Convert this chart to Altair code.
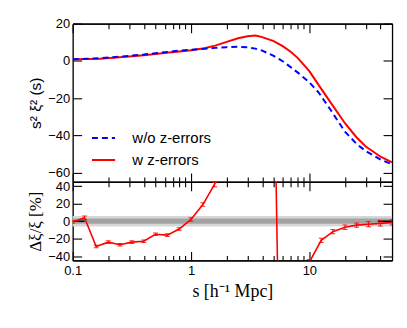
import altair as alt
import pandas as pd

# ---------------- data ----------------
series_names = ["w z-errors", "w/o z-errors"]
s_top = [0.1, 0.13, 0.17, 0.22, 0.3, 0.4, 0.5, 0.65, 0.8, 1.0, 1.3, 1.6, 2.0, 2.5, 3.0,
         3.5, 4.0, 5.0, 6.0, 7.0, 8.0, 10.0, 12.0, 15.0, 20.0, 25.0, 30.0, 40.0, 50.0]
xi_wz = [0.9, 1.0, 1.2, 1.7, 2.4, 3.1, 3.7, 4.5, 5.1, 5.7, 6.8, 8.2, 10.2, 12.2, 13.3,
         13.6, 12.8, 10.6, 7.8, 4.8, 1.5, -5.5, -13.0, -22.0, -33.5, -41.0, -46.0, -51.5, -54.5]
xi_woz = [0.9, 1.1, 1.4, 2.0, 2.7, 3.4, 4.1, 4.9, 5.5, 6.0, 6.5, 7.0, 7.4, 7.6, 7.3,
          6.6, 5.5, 2.7, -0.3, -3.5, -6.3, -11.5, -17.0, -26.0, -38.0, -44.5, -48.5, -53.0, -55.5]

s_res = [0.1, 0.126, 0.158, 0.2, 0.251, 0.316, 0.398, 0.501, 0.631, 0.794, 1.0, 1.26, 1.58,
         2.0, 2.51, 3.16, 3.98, 5.01, 6.31, 7.94, 10.0, 12.6, 15.8, 20.0, 25.1, 31.6, 39.8, 50.0]
res = [-1, 4, -29, -24, -27, -24, -23, -15, -16, -9, 2, 19, 42,
       70, 95, 115, 150, 200, -600, -160, -47, -22, -12, -7, -4.5, -3.5, -2.5, -1.5]
res_err = [1.5, 2, 1.5, 1.5, 1.5, 1.5, 1.5, 1.5, 1.5, 1.5, 2, 2, 2.5,
           3, 3, 4, 5, 8, 10, 6, 3, 2.5, 2.5, 2.5, 2.5, 3, 3, 3]

band_outer = [-6, 6]
band_inner = [-3, 3]
zero_seg_s = [0.1, 0.126, 38.0, 50.0]
zero_seg_id = ["a", "a", "b", "b"]

major_x = [0.1, 1, 10]
minor_x = [0.2, 0.3, 0.4, 0.5, 0.6, 0.7, 0.8, 0.9, 2, 3, 4, 5, 6, 7, 8, 9, 20, 30, 40]
top_y_ticks = [-60, -40, -20, 0, 20]
bot_y_ticks = [-40, -20, 0, 20, 40]

# ---------------- tables ----------------
wz_df = pd.DataFrame({"s": s_top, "v": xi_wz, "series": series_names[0]})
woz_df = pd.DataFrame({"s": s_top, "v": xi_woz, "series": series_names[1]})
res_df = pd.DataFrame({"s": s_res, "r": res, "e": res_err})
res_df["lo"] = res_df["r"] - res_df["e"]
res_df["hi"] = res_df["r"] + res_df["e"]
band_df = pd.DataFrame({"lo": [band_outer[0], band_inner[0]], "hi": [band_outer[1], band_inner[1]],
                        "kind": ["outer", "inner"]})
zero_df = pd.DataFrame({"s": zero_seg_s, "z": [0] * len(zero_seg_s), "seg": zero_seg_id})

W, H1, H2 = 321, 159, 79
SANS = "Liberation Sans"
SERIF = "Liberation Serif"

xscale = alt.Scale(type="log", domain=[0.1, 50], nice=False)
yscale_top = alt.Scale(domain=[-65, 20], nice=False)
yscale_bot = alt.Scale(domain=[-45, 45], nice=False)


def ax(orient, values, size, labels=False, title=None, **kw):
    return alt.Axis(orient=orient, values=values, tickSize={"expr": str(-size)},
                    labels=labels, title=title, grid=False, domain=True,
                    domainColor="black", domainWidth=1.3, tickColor="black",
                    tickWidth=1.1, labelFont=SANS, labelFontSize=13, labelFlush=False,
                    labelOverlap=False, labelColor="black", **kw)


def leg(y, dash):
    return alt.Legend(title=None, orient="none", legendX=18, legendY=y, symbolType="stroke",
                      symbolSize=540, symbolStrokeWidth=2, symbolDash=dash, labelFont=SANS,
                      labelFontSize=15, labelColor="black", labelOffset=16, padding=0)


# ---------------- top panel ----------------
red_line = alt.Chart(wz_df).mark_line(strokeWidth=2, clip=True).encode(
    x=alt.X("s:Q", scale=xscale, axis=ax("bottom", major_x, 9)),
    y=alt.Y("v:Q", scale=yscale_top,
            axis=ax("left", top_y_ticks, 9, labels=True, title="s² ξ² (s)", labelPadding=12,
                    titleFont=SANS, titleFontSize=15.5, titleFontWeight="normal",
                    titleColor="black", titlePadding=4)),
    color=alt.Color("series:N", scale=alt.Scale(domain=[series_names[0]], range=["#ff0000"]),
                    legend=leg(124, [1, 0])),
)

blue_line = alt.Chart(woz_df).mark_line(strokeWidth=2, strokeDash=[6, 4], clip=True).encode(
    x=alt.X("s:Q", scale=xscale, axis=None),
    y=alt.Y("v:Q", scale=yscale_top, axis=None),
    color=alt.Color("series:N", scale=alt.Scale(domain=[series_names[1]], range=["#0000ff"]),
                    legend=leg(102, [6, 4])),
)


def ghost(df, xf, yf, yscale, xaxis, yaxis):
    return alt.Chart(df).mark_point(opacity=0, size=1, clip=True).encode(
        x=alt.X(xf, scale=xscale, axis=xaxis),
        y=alt.Y(yf, scale=yscale, axis=yaxis),
    )


top = alt.layer(
    red_line,
    blue_line,
    ghost(wz_df, "s:Q", "v:Q", yscale_top, ax("top", major_x, 9), ax("right", top_y_ticks, 9)),
    ghost(wz_df, "s:Q", "v:Q", yscale_top, ax("bottom", minor_x, 5), None),
    ghost(wz_df, "s:Q", "v:Q", yscale_top, ax("top", minor_x, 5), None),
).resolve_axis(x="independent", y="independent").resolve_scale(
    color="independent").properties(width=W, height=H1)

# ---------------- bottom panel ----------------
bands = alt.Chart(band_df).mark_rect().encode(
    x=alt.value(0), x2=alt.value(W),
    y=alt.Y("lo:Q", scale=yscale_bot, axis=None), y2="hi:Q",
    color=alt.Color("kind:N", scale=alt.Scale(domain=["outer", "inner"],
                                              range=["#d6d6d6", "#a3a3a3"]), legend=None),
)

zero_line = alt.Chart(zero_df).mark_line(color="black", strokeWidth=1.5, clip=True).encode(
    x=alt.X("s:Q", scale=xscale, axis=None),
    y=alt.Y("z:Q", scale=yscale_bot, axis=None),
    detail="seg:N",
)

res_line = alt.Chart(res_df).mark_line(color="#ff0000", strokeWidth=1.6, clip=True).encode(
    x=alt.X("s:Q", scale=xscale,
            axis=ax("bottom", major_x, 9, labels=True, title="s  [h⁻¹ Mpc]", format="~g",
                    labelPadding=13, titleFont=SERIF, titleFontSize=18,
                    titleFontWeight="normal", titleColor="black", titlePadding=5)),
    y=alt.Y("r:Q", scale=yscale_bot,
            axis=ax("left", bot_y_ticks, 9, labels=True, title="Δξ/ξ  [%]", labelPadding=12,
                    titleFont=SERIF, titleFontSize=17, titleFontWeight="normal",
                    titleColor="black", titlePadding=3)),
)

err_rule = alt.Chart(res_df).mark_rule(color="#ff0000", strokeWidth=1, clip=True).encode(
    x=alt.X("s:Q", scale=xscale, axis=None),
    y=alt.Y("lo:Q", scale=yscale_bot, axis=None), y2="hi:Q",
)
err_lo = alt.Chart(res_df).mark_tick(color="#ff0000", size=5, thickness=1, orient="horizontal",
                                     clip=True, opacity=0.8).encode(
    x=alt.X("s:Q", scale=xscale, axis=None),
    y=alt.Y("lo:Q", scale=yscale_bot, axis=None),
)
err_hi = alt.Chart(res_df).mark_tick(color="#ff0000", size=5, thickness=1, orient="horizontal",
                                     clip=True, opacity=0.8).encode(
    x=alt.X("s:Q", scale=xscale, axis=None),
    y=alt.Y("hi:Q", scale=yscale_bot, axis=None),
)

bottom = alt.layer(
    bands,
    zero_line,
    res_line,
    err_rule,
    err_lo,
    err_hi,
    ghost(res_df, "s:Q", "r:Q", yscale_bot, ax("top", major_x, 9), ax("right", bot_y_ticks, 9)),
    ghost(res_df, "s:Q", "r:Q", yscale_bot, ax("bottom", minor_x, 5), None),
    ghost(res_df, "s:Q", "r:Q", yscale_bot, ax("top", minor_x, 5), None),
).resolve_axis(x="independent", y="independent").resolve_scale(color="independent").properties(
    width=W, height=H2)

chart = alt.vconcat(top, bottom, spacing=0, bounds="flush").resolve_scale(
    color="independent").properties(
    padding={"left": 18, "top": 8, "right": 5, "bottom": 5}
).configure_view(stroke=None).configure(background="white")

chart.save("out.html", embed_options={"renderer": "svg", "actions": False})
